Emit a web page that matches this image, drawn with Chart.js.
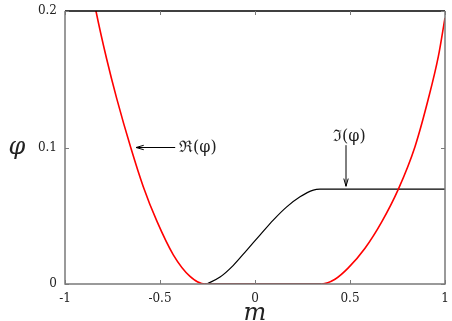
<!DOCTYPE html>
<html>
<head>
<meta charset="utf-8">
<script src="https://cdn.jsdelivr.net/npm/chart.js@4"></script>
<style>
  html, body { margin: 0; padding: 0; background: #fff; }
  #wrap { width: 452px; height: 321px; }
</style>
</head>
<body>
<div id="wrap"><canvas id="phiChart"></canvas></div>
<script>
// values
const reM = [-0.88, -0.837, -0.781, -0.728, -0.654, -0.588, -0.517, -0.430, -0.342, -0.263, 0.351, 0.421, 0.491, 0.579, 0.667, 0.754, 0.842, 0.912, 0.965, 1.0];
const rePhi = [0.232, 0.200, 0.165, 0.136, 0.100, 0.0713, 0.0462, 0.0214, 0.0056, 0, 0, 0.0035, 0.0118, 0.0262, 0.0455, 0.0693, 0.1006, 0.1355, 0.1667, 0.195];
const imM = [-0.254, -0.184, -0.114, -0.044, 0.026, 0.096, 0.167, 0.237, 0.307, 0.342, 1.0];
const imPhi = [0, 0.0051, 0.0137, 0.0247, 0.0358, 0.0468, 0.0565, 0.0639, 0.0688, 0.0695, 0.0695];
const xTicks = [-1, -0.5, 0, 0.5, 1];
const yTicks = [0, 0.1, 0.2];

const serif = "'DejaVu Serif', 'Liberation Serif', serif";
const frameGray = "#7a7a7a";

const toPoints = (xs, ys) => xs.map((x, i) => ({ x: x, y: ys[i] }));

// frame, inward ticks, arrows and labels
const decorations = {
    id: "decorations",
    afterDatasetsDraw(chart) {
        const ctx = chart.ctx;
        const a = chart.chartArea;
        const xs = chart.scales.x;
        const ys = chart.scales.y;
        ctx.save();

        // frame
        ctx.lineWidth = 1.5;
        ctx.strokeStyle = frameGray;
        ctx.beginPath();
        ctx.moveTo(a.left, a.top);
        ctx.lineTo(a.left, a.bottom);
        ctx.lineTo(a.right, a.bottom);
        ctx.lineTo(a.right, a.top);
        ctx.stroke();
        ctx.strokeStyle = "#000";
        ctx.beginPath();
        ctx.moveTo(a.left, a.top);
        ctx.lineTo(a.right, a.top);
        ctx.stroke();

        // inward ticks
        ctx.lineWidth = 1;
        ctx.strokeStyle = frameGray;
        ctx.beginPath();
        xTicks.forEach((v) => {
            const px = Math.round(xs.getPixelForValue(v)) + 0.5;
            ctx.moveTo(px, a.bottom);
            ctx.lineTo(px, a.bottom - 4);
            ctx.moveTo(px, a.top);
            ctx.lineTo(px, a.top + 4);
        });
        yTicks.forEach((v) => {
            const py = Math.round(ys.getPixelForValue(v)) + 0.5;
            ctx.moveTo(a.left, py);
            ctx.lineTo(a.left + 4, py);
            ctx.moveTo(a.right, py);
            ctx.lineTo(a.right - 4, py);
        });
        ctx.stroke();

        // arrows
        const arrow = (x1, y1, x2, y2) => {
            const ang = Math.atan2(y2 - y1, x2 - x1);
            const len = 8, spread = 0.28;
            ctx.beginPath();
            ctx.moveTo(x1, y1);
            ctx.lineTo(x2, y2);
            ctx.moveTo(x2 - len * Math.cos(ang - spread), y2 - len * Math.sin(ang - spread));
            ctx.lineTo(x2, y2);
            ctx.lineTo(x2 - len * Math.cos(ang + spread), y2 - len * Math.sin(ang + spread));
            ctx.stroke();
        };
        ctx.strokeStyle = "#000";
        ctx.lineWidth = 1;
        const reY = ys.getPixelForValue(0.1);
        arrow(xs.getPixelForValue(-0.42), reY, xs.getPixelForValue(-0.626), reY);
        const imX = xs.getPixelForValue(0.479);
        arrow(imX, ys.getPixelForValue(0.1017), imX, ys.getPixelForValue(0.0716));

        ctx.fillStyle = "#222";
        ctx.font = "16px " + serif;
        ctx.textBaseline = "middle";
        ctx.textAlign = "left";
        ctx.fillText("\u211C(\u03C6)", xs.getPixelForValue(-0.40), reY);
        ctx.fillText("\u2111(\u03C6)", imX - 13, ys.getPixelForValue(0.1076));

        // y axis title, upright
        ctx.font = "italic 24px " + serif;
        ctx.textAlign = "center";
        ctx.fillText("\u03C6", 17, ys.getPixelForValue(0.1));
        ctx.restore();
    },
};

new Chart(document.getElementById("phiChart"), {
    type: "scatter",
    data: {
        datasets: [
            {
                label: "Re",
                data: toPoints(reM, rePhi),
                showLine: true,
                borderColor: "#ff0000",
                borderWidth: 1.6,
                pointRadius: 0,
                cubicInterpolationMode: "monotone",
                segment: {
                    borderColor: (c) => (c.p0.parsed.y === 0 && c.p1.parsed.y === 0 ? "#a83535" : undefined),
                    borderWidth: (c) => (c.p0.parsed.y === 0 && c.p1.parsed.y === 0 ? 2.2 : undefined),
                },
            },
            {
                label: "Im",
                data: toPoints(imM, imPhi),
                showLine: true,
                borderColor: "#000000",
                borderWidth: 1.2,
                pointRadius: 0,
                cubicInterpolationMode: "monotone",
            },
        ],
    },
    plugins: [decorations],
    options: {
        responsive: true,
        maintainAspectRatio: false,
        animation: false,
        layout: {
            padding: { left: 0, right: 7, top: 11, bottom: 0 },
        },
        plugins: {
            legend: { display: false },
            tooltip: { enabled: false },
        },
        scales: {
            x: {
                type: "linear",
                min: -1,
                max: 1,
                afterFit: (s) => {
                    s.height = 37;
                    s.paddingLeft = 0;
                    s.paddingRight = 0;
                },
                afterBuildTicks: (s) => { s.ticks = xTicks.map((v) => ({ value: v })); },
                grid: { display: false, drawTicks: false },
                border: { display: false },
                ticks: {
                    padding: 8,
                    color: "#222",
                    font: { family: serif, size: 12 },
                    callback: (v) => String(v),
                },
                title: {
                    display: true,
                    text: "m",
                    color: "#222",
                    font: { family: serif, size: 24, style: "italic" },
                    padding: { top: 0, bottom: -7 },
                },
            },
            y: {
                min: 0,
                max: 0.2,
                afterFit: (s) => {
                    s.width = 65;
                    s.paddingTop = 0;
                    s.paddingBottom = 0;
                },
                afterBuildTicks: (s) => { s.ticks = yTicks.map((v) => ({ value: v })); },
                grid: { display: false, drawTicks: false },
                border: { display: false },
                ticks: {
                    padding: 8,
                    color: "#222",
                    font: { family: serif, size: 12 },
                    callback: (v) => String(v),
                },
            },
        },
    },
});
</script>
</body>
</html>
